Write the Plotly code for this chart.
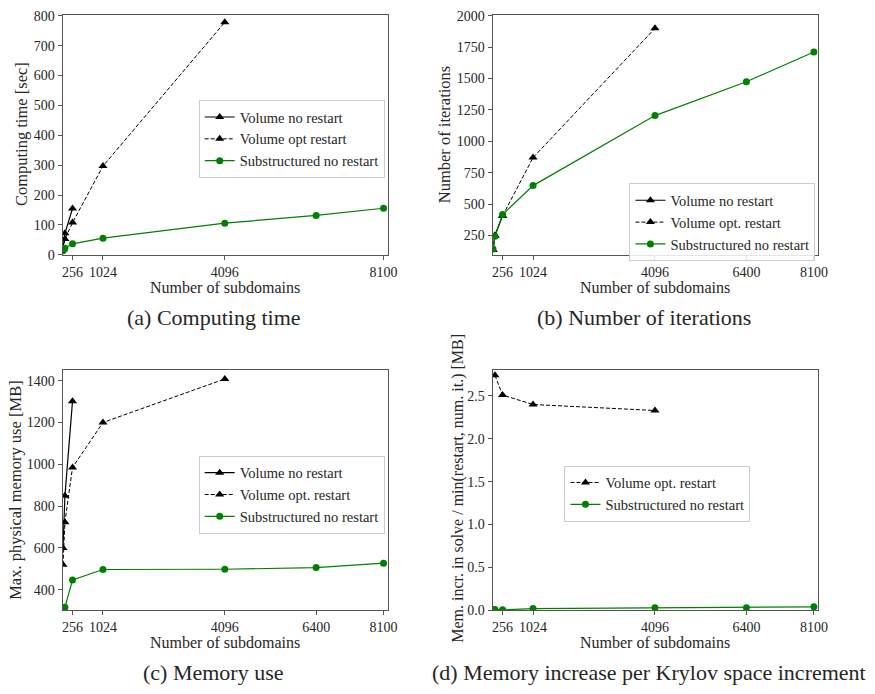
import plotly.graph_objects as go

# ---------------- data ----------------
subdomains = [16, 64, 256, 1024, 4096, 6400, 8100]
vol_norestart_x = [16, 64, 256]
vol_opt_x = [16, 64, 256, 1024, 4096]
vol_opt_x_d = [64, 256, 1024, 4096]

# (a) computing time [sec]
time_vol_norestart = [22, 72, 155]
time_vol_opt = [18, 53, 108, 297, 778]
time_sub = [14, 22, 37, 56, 106, 132, 156]

# (b) number of iterations
iter_vol_norestart = [133, 250, 406]
iter_vol_opt = [133, 250, 406, 870, 1900]
iter_sub = [142, 244, 416, 647, 1205, 1475, 1712]

# (c) memory use [MB]
mem_vol_norestart = [600, 849, 1302]
mem_vol_opt = [520, 723, 985, 1200, 1408]
mem_sub = [312, 316, 447, 497, 498, 506, 527]

# (d) memory increase per Krylov increment [MB]
incr_vol_opt = [2.74, 2.51, 2.40, 2.33]
incr_sub = [0.01, 0.01, 0.005, 0.02, 0.03, 0.03, 0.04]

xticks_a = [256, 1024, 4096, 8100]
xticks = [256, 1024, 4096, 6400, 8100]

# ---------------- layout helpers ----------------
W, H = 875, 694
FONT = "Liberation Serif"
TXT = "#262626"


def px(x):
    return x / W


def py(y):
    return 1 - y / H


fig = go.Figure()

BLACK = "black"
GREEN = "#008000"


def add_series(x, y, xa, ya, name, kind, legend):
    if kind == "solid":
        line = dict(color=BLACK, width=1.2)
        marker = dict(symbol="triangle-up", size=8, color=BLACK)
    elif kind == "dash":
        line = dict(color=BLACK, width=1, dash="4px,2px")
        marker = dict(symbol="triangle-up", size=8, color=BLACK)
    else:
        line = dict(color=GREEN, width=1.2)
        marker = dict(symbol="circle", size=7, color=GREEN)
    fig.add_trace(go.Scatter(x=x, y=y, xaxis=xa, yaxis=ya, mode="lines+markers",
                             line=line, marker=marker, name=name, legend=legend))


# (a)
add_series(vol_norestart_x, time_vol_norestart, "x", "y", "Volume no restart", "solid", "legend")
add_series(vol_opt_x, time_vol_opt, "x", "y", "Volume opt restart", "dash", "legend")
add_series(subdomains, time_sub, "x", "y", "Substructured no restart", "green", "legend")
# (b)
add_series(vol_norestart_x, iter_vol_norestart, "x2", "y2", "Volume no restart", "solid", "legend2")
add_series(vol_opt_x, iter_vol_opt, "x2", "y2", "Volume opt. restart", "dash", "legend2")
add_series(subdomains, iter_sub, "x2", "y2", "Substructured no restart", "green", "legend2")
# (c)
add_series(vol_norestart_x, mem_vol_norestart, "x3", "y3", "Volume no restart", "solid", "legend3")
add_series(vol_opt_x, mem_vol_opt, "x3", "y3", "Volume opt. restart", "dash", "legend3")
add_series(subdomains, mem_sub, "x3", "y3", "Substructured no restart", "green", "legend3")
# (d)
add_series(vol_opt_x_d, incr_vol_opt, "x4", "y4", "Volume opt. restart", "dash", "legend4")
add_series(subdomains, incr_sub, "x4", "y4", "Substructured no restart", "green", "legend4")

# plot-area pixel boxes
LEFT = (63.3, 392)
RIGHT = (498.3, 827.3)
TOP = (9, 254)
BOT = (371.7, 616.7)

axis_common = dict(showline=True, mirror=True, linecolor="#555", linewidth=1,
                   ticks="outside", ticklen=4, tickcolor="#555", tickwidth=1,
                   showgrid=False, zeroline=False, tickangle=0,
                   tickfont=dict(family=FONT, size=14, color=TXT))


def xax(dom, anchor, tickvals):
    d = dict(axis_common)
    d.update(domain=[px(dom[0]), px(dom[1])], anchor=anchor, range=[5, 8200],
             tickvals=tickvals, ticktext=[str(v) for v in tickvals])
    return d


def yax(dom, anchor, rng, tickvals, ticktext=None):
    d = dict(axis_common)
    d.update(domain=[py(dom[1]), py(dom[0])], anchor=anchor, range=rng,
             tickvals=tickvals,
             ticktext=ticktext if ticktext else [str(v) for v in tickvals])
    return d


fig.update_layout(
    xaxis=xax(LEFT, "y", xticks_a),
    yaxis=yax(TOP, "x", [0, 803], list(range(0, 801, 100))),
    xaxis2=xax(RIGHT, "y2", xticks),
    yaxis2=yax(TOP, "x2", [95, 2008], list(range(250, 2001, 250))),
    xaxis3=xax(LEFT, "y3", xticks),
    yaxis3=yax(BOT, "x3", [302, 1450], list(range(400, 1401, 200))),
    xaxis4=xax(RIGHT, "y4", xticks),
    yaxis4=yax(BOT, "x4", [0, 2.8], [0, 0.5, 1.0, 1.5, 2.0, 2.5],
               ["0.0", "0.5", "1.0", "1.5", "2.0", "2.5"]),
)

legend_common = dict(bgcolor="rgba(255,255,255,0.85)", bordercolor="#cccccc",
                     borderwidth=1, font=dict(family=FONT, size=14.5, color=TXT),
                     xanchor="left", yanchor="top", tracegroupgap=0,
                     itemwidth=30)
fig.update_layout(
    legend=dict(legend_common, x=px(201), y=py(96)),
    legend2=dict(legend_common, x=px(636.7), y=py(181)),
    legend3=dict(legend_common, x=px(201), y=py(459)),
    legend4=dict(legend_common, x=px(571), y=py(469)),
)

annotations = []


def ann(text, x, y, size, angle=0):
    annotations.append(dict(text=text, x=px(x), y=py(y), xref="paper", yref="paper",
                            showarrow=False, textangle=angle, xanchor="center",
                            yanchor="middle", font=dict(family=FONT, size=size, color=TXT)))


ann("Computing time [sec]", 22, 131, 16.5, -90)
ann("Number of iterations", 450, 131, 16.5, -90)
ann("Max. physical memory use [MB]", 15, 494, 16.5, -90)
ann("Mem. incr. in solve / min(restart, num. it.) [MB]", 463, 492, 16, -90)
ann("Number of subdomains", 227.5, 287, 16)
ann("Number of subdomains", 662.8, 287, 16)
ann("Number of subdomains", 227.5, 649.5, 16)
ann("Number of subdomains", 662.8, 649.5, 16)
ann("(a) Computing time", 216, 318, 22)
ann("(b) Number of iterations", 651, 318, 22)
ann("(c) Memory use", 216, 680, 22)
ann("(d) Memory increase per Krylov space increment", 656, 680, 22)

fig.update_layout(annotations=annotations, width=W, height=H, autosize=False,
                  margin=dict(l=0, r=0, t=0, b=0), paper_bgcolor="white",
                  plot_bgcolor="white", showlegend=True)

fig.write_html("out.html",
               config={"displayModeBar": False},
               post_script="document.body.style.margin='0';"
                           "document.body.style.padding='0';"
                           "document.body.style.overflow='hidden';")
